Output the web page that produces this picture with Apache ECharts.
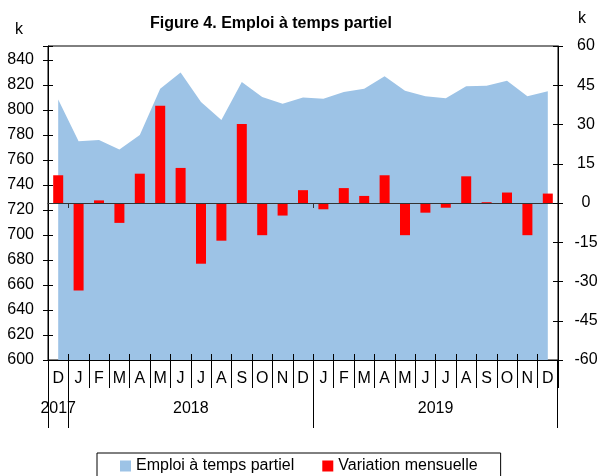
<!DOCTYPE html>
<html>
<head>
<meta charset="utf-8">
<script src="https://cdn.jsdelivr.net/npm/echarts@6/dist/echarts.min.js"></script>
<style>
html,body{margin:0;padding:0;background:#fff;}
#c{width:601px;height:476px;}
</style>
</head>
<body>
<div id="c"></div>
<script>
// ---- data ----
var months = ['D','J','F','M','A','M','J','J','A','S','O','N','D','J','F','M','A','M','J','J','A','S','O','N','D'];
var emploi = [808.5, 775, 776, 768.5, 780, 817, 830, 806.5, 792, 822.5, 810.5, 805, 810, 809, 814.5, 817, 827, 815.5, 811, 809.5, 819, 819.5, 823.5, 811, 815];
var variation = [10.6, -33.4, 1.0, -7.6, 11.2, 37.2, 13.4, -23.2, -14.4, 30.2, -12.3, -4.8, 4.9, -2.4, 5.7, 2.7, 10.6, -12.3, -3.7, -1.8, 10.2, 0.3, 4.0, -12.3, 3.6];
var years = ['2017', '2018', '2019'];
var yearCenters = [0.5, 7, 19];
var yearBounds = [0, 1, 13, 24.98];
var zeroMarks = [1, 13];
var leftTicks = {min: 600, max: 851.2, interval: 20};
var rightTicks = {min: -60, max: 60, interval: 15};

var FONT = 'Liberation Sans, Arial, sans-serif';
var chart = echarts.init(document.getElementById('c'), null, {renderer: 'canvas'});
var black = '#000';

function hiddenValueX(extra) {
  return Object.assign({
    type: 'value', min: 0, max: months.length, gridIndex: 0, position: 'bottom',
    axisLine: {show: false, onZero: false}, axisLabel: {show: false},
    axisTick: {show: false}, splitLine: {show: false}, z: 10, silent: true
  }, extra);
}

var option = {
  animation: false,
  backgroundColor: '#fff',
  textStyle: {fontFamily: FONT},
  title: {
    text: 'Figure 4. Emploi à temps partiel',
    left: 145, top: 11,
    textStyle: {fontFamily: FONT, fontSize: 16, fontWeight: 'bold', color: black}
  },
  grid: {left: 48, right: 43, top: 46, bottom: 116, show: true, borderColor: black, borderWidth: 1, backgroundColor: 'transparent', containLabel: false},
  legend: {
    left: 97, top: 453,
    padding: [5, 23, 10, 23],
    borderColor: black, borderWidth: 1,
    itemWidth: 11, itemHeight: 11, itemGap: 28,
    textStyle: {fontFamily: FONT, fontSize: 16, color: black},
    data: [{name: 'Emploi à temps partiel', icon: 'rect'}, {name: 'Variation mensuelle', icon: 'rect'}]
  },
  xAxis: [
    {
      type: 'category', data: months, boundaryGap: true, position: 'bottom', z: 10,
      axisLine: {onZero: false, lineStyle: {color: black, width: 1}},
      axisTick: {show: true, interval: 0, inside: false, length: 28, lineStyle: {color: black}},
      axisLabel: {interval: 0, margin: 11, fontFamily: FONT, fontSize: 16, color: black},
      splitLine: {show: false}
    },
    hiddenValueX({
      axisTick: {show: true, inside: true, length: 6, interval: 0, lineStyle: {color: black}},
      interval: 1
    }),
    hiddenValueX({
      axisTick: {show: true, inside: false, length: 68, customValues: yearBounds, lineStyle: {color: black}},
      axisLabel: {show: true, customValues: yearCenters, margin: 41, fontFamily: FONT, fontSize: 16, color: black,
        formatter: function (v) { var i = yearCenters.indexOf(v); return i >= 0 ? years[i] : ''; }}
    }),
    hiddenValueX({
      axisLine: {show: true, onZero: true, onZeroAxisIndex: 1, lineStyle: {color: '#333', width: 1.2}},
      axisTick: {show: true, inside: false, length: 5, customValues: zeroMarks, lineStyle: {color: '#333'}}
    })
  ],
  yAxis: [
    {
      type: 'value', position: 'left', min: leftTicks.min, max: leftTicks.max, interval: leftTicks.interval, z: 10,
      axisLine: {show: true, onZero: false, lineStyle: {color: black}},
      axisTick: {show: true, inside: false, length: 5, lineStyle: {color: black}},
      axisLabel: {margin: 14, fontFamily: FONT, fontSize: 16, color: black,
        formatter: function (v) { return (Math.abs(v % 20) < 1e-6) ? String(v) : ''; }},
      splitLine: {show: false},
      name: 'k', nameLocation: 'end', nameGap: 8,
      nameTextStyle: {fontFamily: FONT, fontSize: 16, color: black, align: 'right', padding: [0, 25, 0, 0]}
    },
    {
      type: 'value', position: 'right', min: rightTicks.min, max: rightTicks.max, interval: rightTicks.interval, z: 10,
      axisLine: {show: true, onZero: false, lineStyle: {color: black}},
      axisTick: {show: true, inside: false, length: 5, lineStyle: {color: black}},
      axisLabel: {margin: 28, align: 'center', fontFamily: FONT, fontSize: 16, color: black},
      splitLine: {show: false},
      name: 'k', nameLocation: 'end', nameGap: 19,
      nameTextStyle: {fontFamily: FONT, fontSize: 16, color: black, align: 'left', padding: [0, 0, 0, 20]}
    },
    {
      type: 'value', position: 'left', min: leftTicks.min, max: leftTicks.max, interval: leftTicks.interval, z: 10,
      axisLine: {show: false, onZero: false}, axisLabel: {show: false}, splitLine: {show: false},
      axisTick: {show: true, inside: true, length: 5, lineStyle: {color: black}}
    },
    {
      type: 'value', position: 'right', min: rightTicks.min, max: rightTicks.max, interval: rightTicks.interval, z: 10,
      axisLine: {show: false, onZero: false}, axisLabel: {show: false}, splitLine: {show: false},
      axisTick: {show: true, inside: true, length: 5, lineStyle: {color: black}}
    }
  ],
  series: [
    {
      name: 'Emploi à temps partiel', type: 'line', xAxisIndex: 0, yAxisIndex: 0,
      data: emploi, showSymbol: false, symbol: 'none', z: 2,
      itemStyle: {color: '#9DC3E6'},
      lineStyle: {width: 0, color: '#9DC3E6'},
      areaStyle: {color: '#9DC3E6', opacity: 1, origin: 'start'}
    },
    {
      name: 'Variation mensuelle', type: 'bar', xAxisIndex: 0, yAxisIndex: 1,
      data: variation, barWidth: 10, z: 3,
      itemStyle: {color: '#FF0000'}
    }
  ]
};
chart.setOption(option);
</script>
</body>
</html>
